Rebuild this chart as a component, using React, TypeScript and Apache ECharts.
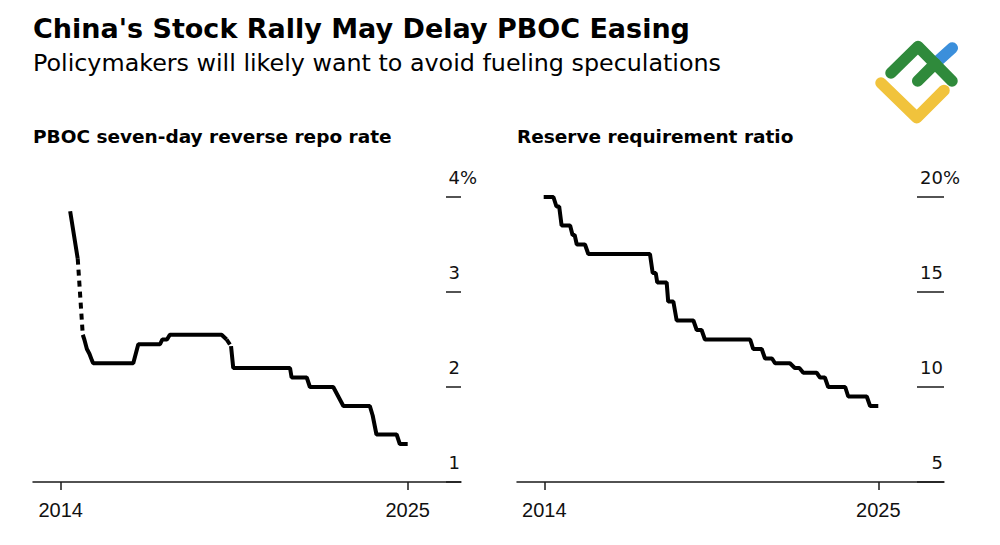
import React, { useEffect, useRef } from 'react';
import * as echarts from 'echarts';

// ---- Data (decimal years, values in %) ----
// null in the rates marks a stretch without observations (drawn dotted)
const repoDates = [
  2015.05, 2015.29, null, 2015.45, 2015.5, 2015.58, 2015.66, 2015.74, 2015.78,
  2017.05, 2017.21, 2017.9, 2017.97, 2018.12, 2018.21, 2019.85, 2020.01, null,
  2020.15, 2020.22, 2022.02, 2022.07, 2022.55, 2022.65, 2023.39, 2023.55,
  2023.71, 2024.55, 2024.64, 2024.76, 2025.4, 2025.5, 2025.75,
];
const repoRates = [
  3.85, 3.35, null, 2.55, 2.5, 2.4, 2.35, 2.28, 2.25,
  2.25, 2.45, 2.45, 2.5, 2.5, 2.55, 2.55, 2.5, null,
  2.43, 2.2, 2.2, 2.1, 2.1, 2.0, 2.0, 1.9,
  1.8, 1.8, 1.7, 1.5, 1.5, 1.4, 1.4,
];

const rrrDates = [
  2014.73, 2015.05, 2015.15, 2015.24, 2015.32, 2015.6, 2015.68, 2015.75, 2015.82,
  2016.09, 2016.2, 2018.23, 2018.32, 2018.42, 2018.47, 2018.78, 2018.83, 2019.0,
  2019.11, 2019.66, 2019.77, 2019.93, 2020.04, 2021.53, 2021.63, 2021.91, 2022.02,
  2022.25, 2022.35, 2022.84, 2023.0, 2023.15, 2023.28, 2023.72, 2023.83, 2023.99,
  2024.1, 2024.66, 2024.76, 2025.37, 2025.48, 2025.75,
];
const rrrRates = [
  20, 20, 19.5, 19.5, 18.5, 18.5, 18.0, 18.0, 17.5,
  17.5, 17.0, 17.0, 16.0, 16.0, 15.5, 15.5, 14.5, 14.5,
  13.5, 13.5, 13.0, 13.0, 12.5, 12.5, 12.0, 12.0, 11.5,
  11.5, 11.25, 11.25, 11.0, 11.0, 10.75, 10.75, 10.5, 10.5,
  10.0, 10.0, 9.5, 9.5, 9.0, 9.0,
];

const xTickValues = [2014.75, 2025.75];
const xTickLabels = ['2014', '2025'];
const repoAxis = { min: 1, max: 4, interval: 1 };
const rrrAxis = { min: 5, max: 20, interval: 5 };

const FONT = '"Liberation Sans", Arial, Helvetica, sans-serif';
const WIDE = '"DejaVu Sans", Verdana, sans-serif';
const INK = '#111111';

function solidData(dates: (number | null)[], rates: (number | null)[]) {
  return dates.map((d, i) =>
    rates[i] == null ? [dates[i - 1], '-'] : [d, rates[i]]
  );
}

function gapData(dates: (number | null)[], rates: (number | null)[]) {
  const out: any[] = [];
  rates.forEach((r, i) => {
    if (r == null) {
      out.push([dates[i - 1], rates[i - 1]]);
      out.push([dates[i + 1], rates[i + 1]]);
      out.push([dates[i + 1], '-']);
    }
  });
  return out;
}

function xAxisFor(gridIndex: number, min: number, max: number) {
  return {
    type: 'value',
    gridIndex,
    min,
    max,
    axisLine: { show: true, onZero: false, lineStyle: { color: '#1a1a1a', width: 1.5 } },
    axisTick: { show: true, customValues: xTickValues, length: 8, lineStyle: { color: '#1a1a1a', width: 1.5 } },
    axisLabel: {
      customValues: xTickValues,
      margin: 18,
      fontSize: 20,
      fontFamily: FONT,
      color: INK,
      formatter: (v: number) => {
        let best = 0;
        xTickValues.forEach((t, i) => {
          if (Math.abs(t - v) < Math.abs(xTickValues[best] - v)) best = i;
        });
        return xTickLabels[best];
      },
    },
    splitLine: { show: false },
  };
}

function yAxisFor(gridIndex: number, ax: { min: number; max: number; interval: number }, tickLen: number) {
  return {
    type: 'value',
    gridIndex,
    min: ax.min,
    max: ax.max,
    interval: ax.interval,
    position: 'right',
    axisLine: { show: false },
    splitLine: { show: false },
    axisTick: { show: true, inside: true, length: tickLen, lineStyle: { color: '#1a1a1a', width: 1.5 } },
    axisLabel: {
      inside: true,
      align: 'left',
      margin: tickLen,
      verticalAlign: 'bottom',
      padding: [0, 0, 11, 0],
      formatter: (v: number) => (v === ax.max ? `{n|${v}}{p|%}` : `{n|${v}}`),
      rich: {
        n: { fontSize: 18, fontFamily: WIDE, color: INK, width: tickLen - 1, align: 'right' },
        p: { fontSize: 18, fontFamily: WIDE, color: INK, align: 'right' },
      },
    },
  };
}

const lineStyleSolid = { color: '#000', width: 4 };
const lineStyleDotted = { color: '#000', width: 4, type: [6, 5] };

const option: any = {
  animation: false,
  backgroundColor: '#ffffff',
  title: [
    { text: "China's Stock Rally May Delay PBOC Easing", left: 33, top: 15, padding: 0, textStyle: { fontFamily: WIDE, fontSize: 27, fontWeight: 'bold', color: '#000' } },
    { text: 'Policymakers will likely want to avoid fueling speculations', left: 33, top: 51, padding: 0, textStyle: { fontFamily: WIDE, fontSize: 23.8, fontWeight: 'normal', color: '#000' } },
    { text: 'PBOC seven-day reverse repo rate', left: 33, top: 127, padding: 0, textStyle: { fontFamily: WIDE, fontSize: 18.5, fontWeight: 'bold', color: '#000' } },
    { text: 'Reserve requirement ratio', left: 517, top: 127, padding: 0, textStyle: { fontFamily: WIDE, fontSize: 18.5, fontWeight: 'bold', color: '#000' } },
  ],
  grid: [
    { left: 33, right: 539, top: 197, bottom: 63 },
    { left: 517, right: 56, top: 197, bottom: 63 },
  ],
  xAxis: [xAxisFor(0, 2013.872, 2027.44), xAxisFor(1, 2013.851, 2027.914)],
  yAxis: [yAxisFor(0, repoAxis, 15), yAxisFor(1, rrrAxis, 27)],
  series: [
    { type: 'line', xAxisIndex: 0, yAxisIndex: 0, data: solidData(repoDates, repoRates), showSymbol: false, silent: true, lineStyle: lineStyleSolid },
    { type: 'line', xAxisIndex: 0, yAxisIndex: 0, data: gapData(repoDates, repoRates), showSymbol: false, silent: true, lineStyle: lineStyleDotted },
    { type: 'line', xAxisIndex: 1, yAxisIndex: 1, data: solidData(rrrDates, rrrRates), showSymbol: false, silent: true, lineStyle: lineStyleSolid },
  ],
  graphic: [
    { type: 'polyline', shape: { points: [[935.1, 63.6], [952.3, 48]] }, style: { stroke: '#3b8fdb', lineWidth: 11.5, lineCap: 'round', fill: null }, silent: true },
    { type: 'polyline', shape: { points: [[881, 83], [916.7, 117.7], [944, 90.4]] }, style: { stroke: '#f1c33c', lineWidth: 11.5, lineCap: 'round', lineJoin: 'round', fill: null }, silent: true },
    { type: 'polyline', shape: { points: [[891, 73], [918, 46.5], [952, 81]] }, style: { stroke: '#2f8a3b', lineWidth: 11.5, lineCap: 'round', lineJoin: 'round', fill: null }, silent: true },
    { type: 'polyline', shape: { points: [[917.7, 81], [935.1, 63.6]] }, style: { stroke: '#2f8a3b', lineWidth: 11.5, lineCap: 'round', fill: null }, silent: true },
  ],
};

export default function App() {
  const ref = useRef<HTMLDivElement>(null);
  useEffect(() => {
    const chart = echarts.init(ref.current as HTMLDivElement, null, { renderer: 'svg' });
    chart.setOption(option);
    return () => chart.dispose();
  }, []);
  return (
    <div
      ref={ref}
      style={{ position: 'fixed', left: 0, top: 0, width: 1000, height: 545, background: '#fff' }}
    />
  );
}
